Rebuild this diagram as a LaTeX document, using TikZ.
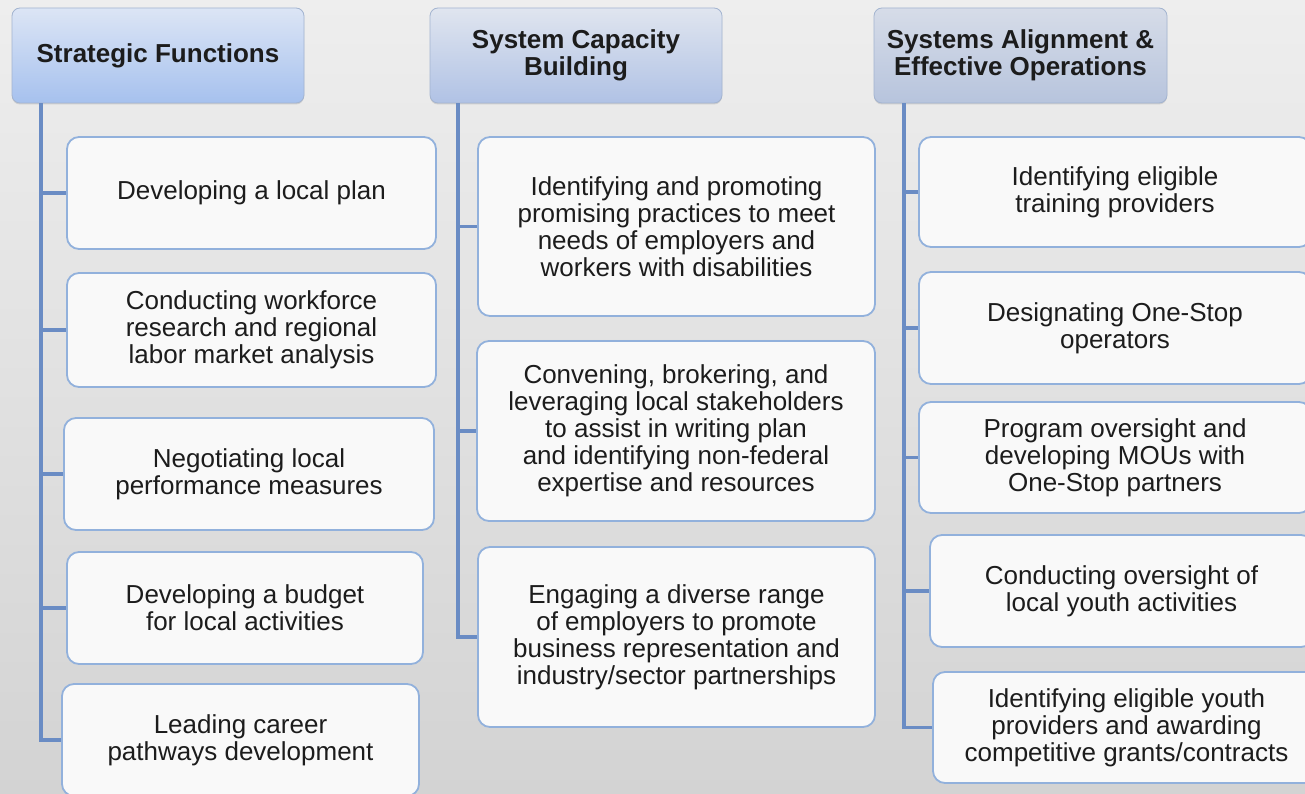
\documentclass[tikz,border=0pt]{standalone}
\usepackage{fontspec}
\setmainfont{Liberation Sans}
\usetikzlibrary{shadows}
\definecolor{bgtop}{HTML}{EEEEEE}
\definecolor{bgbot}{HTML}{D3D3D3}
\definecolor{conncol}{HTML}{6A8CC4}
\definecolor{boxline}{HTML}{92B1DC}
\definecolor{boxfill}{HTML}{F9F9F9}
\definecolor{txt}{HTML}{1C1C1C}
\definecolor{hatop}{HTML}{DCE5F5}
\definecolor{habot}{HTML}{A6C1EE}
\definecolor{hbtop}{HTML}{E0E5EF}
\definecolor{hbbot}{HTML}{B0C2E5}
\definecolor{hctop}{HTML}{D6DCE8}
\definecolor{hcbot}{HTML}{B7C4DD}
\definecolor{hline}{HTML}{A3B4D0}
\tikzset{
  itembox/.style={draw=boxline, line width=1.8pt, fill=boxfill, rounded corners=12pt,
    align=center, inner sep=0pt, text=txt, font=\fontsize{26}{27}\selectfont},
  headbox/.style={draw=hline, line width=0.8pt, rounded corners=8pt, minimum width=292pt,
    minimum height=95pt, align=center, inner sep=0pt, text=txt,
    font=\bfseries\fontsize{26}{27}\selectfont,
    drop shadow={shadow xshift=0pt, shadow yshift=-1.5pt, opacity=0.25}},
  conn/.style={draw=conncol, line width=3.2pt},
}
\begin{document}
\begin{tikzpicture}[x=1pt,y=-1pt]
\useasboundingbox (0,0) rectangle (1305,794);
\shade[top color=bgtop, bottom color=bgbot] (0,0) rectangle (1305,794);

% trunk coordinates
\coordinate (t1) at (41,0);
\coordinate (t2) at (458,0);
\coordinate (t3) at (904,0);

% headers
\node[headbox, top color=hatop, bottom color=habot] (h1) at (158,55.5) {Strategic Functions};
\node[headbox, top color=hbtop, bottom color=hbbot] (h2) at (576,55.5) {System Capacity\\Building};
\node[headbox, top color=hctop, bottom color=hcbot, minimum width=293pt] (h3) at (1020.5,55.5) {Systems Alignment \&\\Effective Operations};

% column 1
\node[itembox, minimum width=369pt, minimum height=112pt] (b11) at (251.5,193) {Developing a local plan};
\node[itembox, minimum width=369pt, minimum height=114pt] (b12) at (251.5,330) {Conducting workforce\\research and regional\\labor market analysis};
\node[itembox, minimum width=370pt, minimum height=112pt] (b13) at (249,474) {Negotiating local\\performance measures};
\node[itembox, minimum width=356pt, minimum height=112pt] (b14) at (245,608) {Developing a budget\\for local activities};
\node[itembox, minimum width=357pt, minimum height=112pt] (b15) at (240.5,740) {Leading career\\pathways development};

% column 2
\node[itembox, minimum width=397pt, minimum height=179pt] (b21) at (676.5,226.5) {Identifying and promoting\\promising practices to meet\\needs of employers and\\workers with disabilities};
\node[itembox, minimum width=398pt, minimum height=180pt] (b22) at (676,431) {Convening, brokering, and\\leveraging local stakeholders\\to assist in writing plan\\and identifying non-federal\\expertise and resources};
\node[itembox, minimum width=397pt, minimum height=180pt] (b23) at (676.5,637) {Engaging a diverse range\\of employers to promote\\business representation and\\industry/sector partnerships};

% column 3
\node[itembox, minimum width=392pt, minimum height=110pt] (b31) at (1115,192) {Identifying eligible\\training providers};
\node[itembox, minimum width=392pt, minimum height=112pt] (b32) at (1115,328) {Designating One-Stop\\operators};
\node[itembox, minimum width=392pt, minimum height=111pt] (b33) at (1115,457.5) {Program oversight and\\developing MOUs with\\One-Stop partners};
\node[itembox, minimum width=383pt, minimum height=112pt] (b34) at (1121.5,591) {Conducting oversight of\\local youth activities};
\node[itembox, minimum width=387pt, minimum height=111pt] (b35) at (1126.5,727.5) {Identifying eligible youth\\providers and awarding\\competitive grants/contracts};

% connectors column 1
\draw[conn] (h1.south -| t1) |- (b15.west);
\foreach \b in {b11,b12,b13,b14} \draw[conn] (t1 |- \b.west) -- (\b.west);
% column 2
\draw[conn] (h2.south -| t2) |- (b23.west);
\foreach \b in {b21,b22} \draw[conn] (t2 |- \b.west) -- (\b.west);
% column 3
\draw[conn] (h3.south -| t3) |- (b35.west);
\foreach \b in {b31,b32,b33,b34} \draw[conn] (t3 |- \b.west) -- (\b.west);
\end{tikzpicture}
\end{document}
